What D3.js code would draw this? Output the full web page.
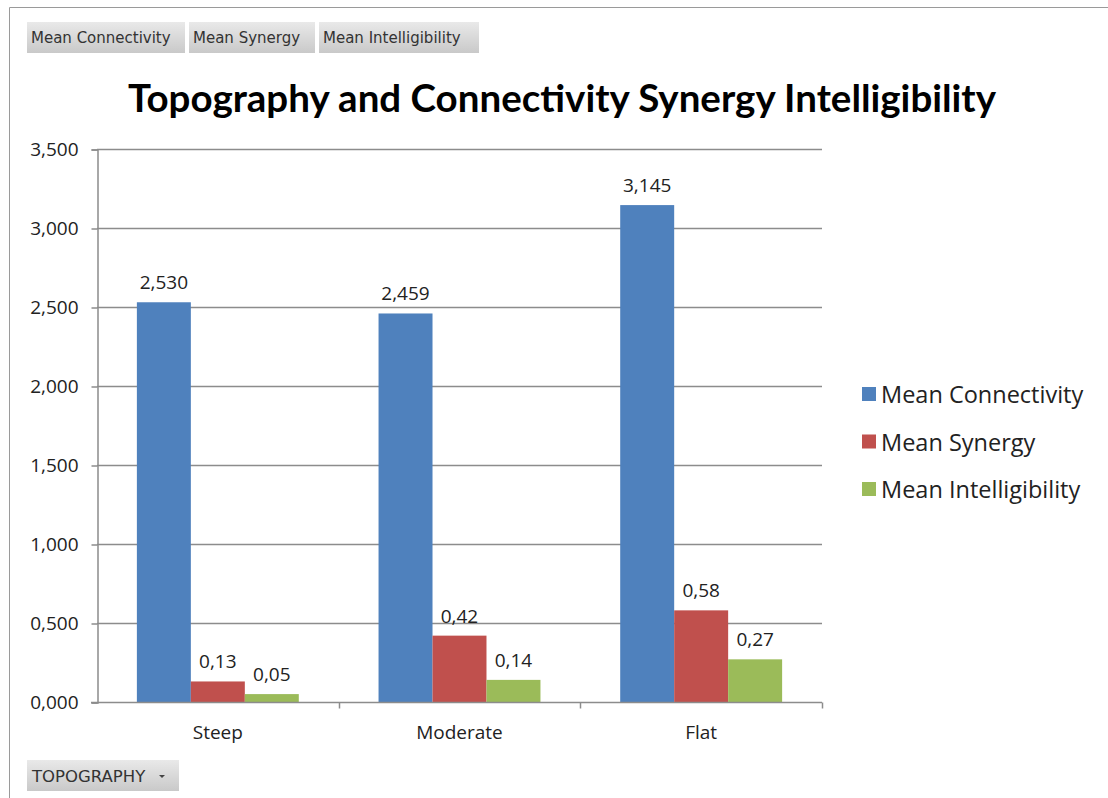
<!DOCTYPE html>
<html>
<head>
<meta charset="utf-8">
<script src="https://cdn.jsdelivr.net/npm/d3@7"></script>
<style>
  body { margin: 0; background: #fff; }
  svg { display: block; }
</style>
</head>
<body>
<svg id="chart" width="1108" height="798"></svg>
<script>
// data
var categories = ["Steep", "Moderate", "Flat"];
var seriesNames = ["Mean Connectivity", "Mean Synergy", "Mean Intelligibility"];
var connectivity = [2.530, 2.459, 3.145];
var synergy = [0.13, 0.42, 0.58];
var intelligibility = [0.05, 0.14, 0.27];
var labelText = [["2,530", "2,459", "3,145"], ["0,13", "0,42", "0,58"], ["0,05", "0,14", "0,27"]];
var yTicks = [0, 0.5, 1, 1.5, 2, 2.5, 3, 3.5];
var colors = ["#4f81bd", "#c0504d", "#9bbb59"];

var seriesValues = [connectivity, synergy, intelligibility];

var svg = d3.select("#chart");
var font = "'Open Sans', 'DejaVu Sans', sans-serif";
var btnFont = "'DejaVu Sans', sans-serif";

var defs = svg.append("defs");
var grad = defs.append("linearGradient").attr("id", "btn").attr("x1", 0).attr("y1", 0).attr("x2", 0).attr("y2", 1);
grad.append("stop").attr("offset", "0%").attr("stop-color", "#e9e9e9");
grad.append("stop").attr("offset", "100%").attr("stop-color", "#c9c9c9");

// outer frame
svg.append("path")
    .attr("d", "M9.5,798 V7.5 H1108")
    .attr("fill", "none")
    .attr("stroke", "#9a9a9a")
    .attr("stroke-width", 1);

// field buttons on top
var buttons = [
  {text: "Mean Connectivity", x: 27, w: 158},
  {text: "Mean Synergy", x: 189, w: 126},
  {text: "Mean Intelligibility", x: 319, w: 160}
];
var btn = svg.append("g").selectAll("g").data(buttons).enter().append("g");
btn.append("rect")
    .attr("x", function(d) { return d.x; })
    .attr("y", 22)
    .attr("width", function(d) { return d.w; })
    .attr("height", 31)
    .attr("fill", "url(#btn)");
btn.append("text")
    .attr("x", function(d) { return d.x + 4; })
    .attr("y", 43)
    .attr("font-family", btnFont)
    .attr("font-size", 15)
    .attr("fill", "#333")
    .text(function(d) { return d.text; });

// TOPOGRAPHY button
var tb = svg.append("g");
tb.append("rect").attr("x", 27).attr("y", 760).attr("width", 152).attr("height", 31).attr("fill", "url(#btn)");
tb.append("text")
    .attr("x", 32).attr("y", 782)
    .attr("font-family", btnFont)
    .attr("font-size", 16.5)
    .attr("fill", "#333")
    .text("TOPOGRAPHY");
tb.append("path").attr("d", "M159,775 h6 l-3,3 z").attr("fill", "#444");

// title
svg.append("text")
    .attr("x", 562)
    .attr("y", 112)
    .attr("text-anchor", "middle")
    .attr("font-family", "Lato, 'Open Sans', sans-serif")
    .attr("font-weight", "bold")
    .attr("font-size", 38.5)
    .attr("fill", "#000")
    .text("Topography and Connectivity Synergy Intelligibility");

// scales
var plotLeft = 97, plotRight = 822, plotTop = 149, plotBottom = 702;
var x0 = d3.scaleBand().domain(categories).range([plotLeft, plotRight]).paddingInner(0.33).paddingOuter(0.165);
var x1 = d3.scaleBand().domain(d3.range(seriesNames.length)).range([0, x0.bandwidth()]);
var y = d3.scaleLinear().domain([0, 3.5]).range([plotBottom, plotTop]);

// gridlines
svg.append("g").selectAll("line").data(yTicks.slice(1)).enter().append("line")
    .attr("x1", plotLeft).attr("x2", plotRight)
    .attr("y1", function(d) { return Math.round(y(d)) + 0.5; })
    .attr("y2", function(d) { return Math.round(y(d)) + 0.5; })
    .attr("stroke", "#8c8c8c")
    .attr("stroke-width", 1.5);

// y axis
var yAxis = svg.append("g")
    .attr("transform", "translate(" + (plotLeft + 0.5) + ",0.5)")
    .call(d3.axisLeft(y).tickValues(yTicks).tickSizeOuter(0).tickSize(6).tickPadding(13)
      .tickFormat(function(d) { return d3.format(",.3f")(d).replace(".", ","); }));
yAxis.select(".domain").attr("stroke", "#8c8c8c").attr("stroke-width", 1.5);
yAxis.selectAll(".tick line").attr("stroke", "#8c8c8c").attr("stroke-width", 1.5);
yAxis.selectAll(".tick text")
    .attr("font-family", font)
    .attr("font-size", 19)
    .attr("fill", "#222");

// bars
var groups = svg.append("g").selectAll("g").data(categories).enter().append("g")
    .attr("transform", function(d) { return "translate(" + x0(d) + ",0)"; });

function cells(d, i) {
  return seriesValues.map(function(s, j) { return {s: j, v: s[i], c: i}; });
}

groups.selectAll("rect")
    .data(cells)
    .enter().append("rect")
    .attr("x", function(d) { return x1(d.s); })
    .attr("y", function(d) { return y(d.v); })
    .attr("width", x1.bandwidth())
    .attr("height", function(d) { return y(0) - y(d.v); })
    .attr("fill", function(d) { return colors[d.s]; });

groups.selectAll("text")
    .data(cells)
    .enter().append("text")
    .attr("x", function(d) { return x1(d.s) + x1.bandwidth() / 2; })
    .attr("y", function(d) { return y(d.v) - 13; })
    .attr("text-anchor", "middle")
    .attr("font-family", font)
    .attr("font-size", 19)
    .attr("fill", "#222")
    .text(function(d) { return labelText[d.s][d.c]; });

// x axis
var xAxis = svg.append("g")
    .attr("transform", "translate(0," + (plotBottom + 0.5) + ")");
xAxis.append("line").attr("x1", plotLeft - 6).attr("x2", plotRight).attr("stroke", "#8c8c8c").attr("stroke-width", 1.5);
var xBounds = categories.map(function(c) { return x0(c) - x0.step() * x0.paddingInner() / 2; }).slice(1).concat([plotRight]);
xAxis.selectAll(".xt").data(xBounds).enter().append("line")
    .attr("x1", function(d) { return Math.round(d) + 0.5; })
    .attr("x2", function(d) { return Math.round(d) + 0.5; })
    .attr("y1", 0).attr("y2", 6)
    .attr("stroke", "#8c8c8c").attr("stroke-width", 1.5);
xAxis.selectAll(".xl").data(categories).enter().append("text")
    .attr("x", function(d) { return x0(d) + x0.bandwidth() / 2; })
    .attr("y", 36)
    .attr("text-anchor", "middle")
    .attr("font-family", font)
    .attr("font-size", 19)
    .attr("fill", "#222")
    .text(function(d) { return d; });

// legend
var legend = svg.append("g").selectAll("g").data(seriesNames).enter().append("g")
    .attr("transform", function(d, i) { return "translate(862," + (395 + i * 47.5) + ")"; });
legend.append("rect").attr("x", 0).attr("y", -8).attr("width", 14).attr("height", 14)
    .attr("fill", function(d, i) { return colors[i]; });
legend.append("text")
    .attr("x", 19).attr("y", 8)
    .attr("font-family", font)
    .attr("font-size", 23.5)
    .attr("fill", "#222")
    .text(function(d) { return d; });
</script>
</body>
</html>
